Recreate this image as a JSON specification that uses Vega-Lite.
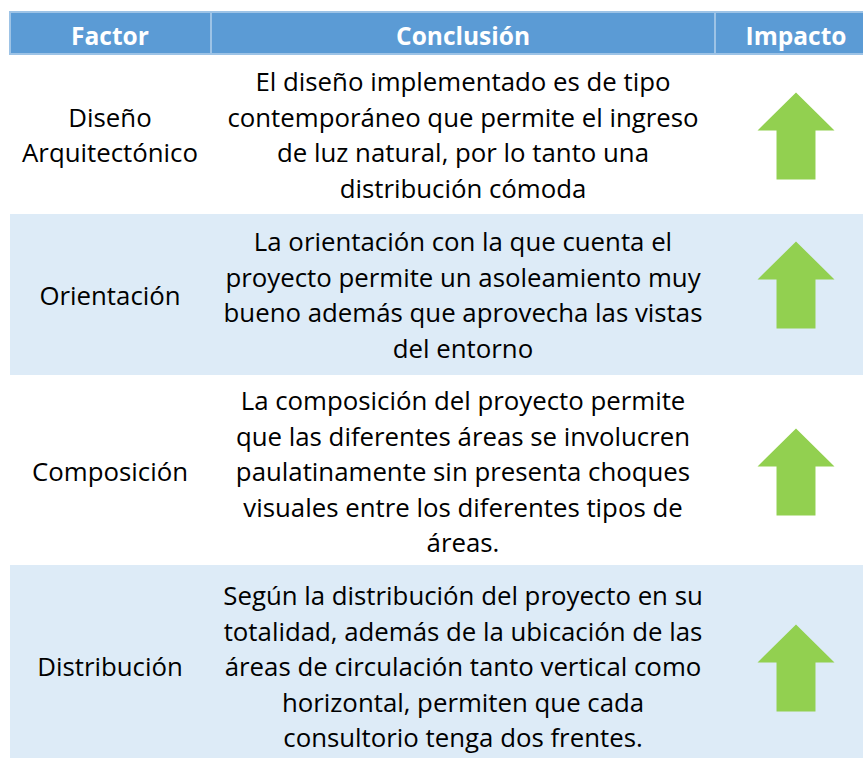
{
  "$schema": "https://vega.github.io/schema/vega-lite/v6.json",
  "width": 863,
  "height": 758,
  "padding": 0,
  "autosize": {"type": "none"},
  "background": "white",
  "config": {"view": {"stroke": null}},
  "datasets": {
    "encabezado": [
      {"columna": "Factor", "izq": 10, "der": 211, "centro": 110},
      {"columna": "Conclusión", "izq": 211, "der": 715, "centro": 463},
      {"columna": "Impacto", "izq": 715, "der": 877, "centro": 796}
    ],
    "filas": [
      {"fila": 1, "factor": ["Diseño", "Arquitectónico"], "conclusion": ["El diseño implementado es de tipo", "contemporáneo que permite el ingreso", "de luz natural, por lo tanto una", "distribución cómoda"], "impacto": "Positivo", "fondo": "blanco", "arriba": 54, "abajo": 214, "centro": 136, "y_factor": 126.6, "y_conclusion": 91},
      {"fila": 2, "factor": ["Orientación"], "conclusion": ["La orientación con la que cuenta el", "proyecto permite un asoleamiento muy", "bueno además que aprovecha las vistas", "del entorno"], "impacto": "Positivo", "fondo": "azul", "arriba": 214, "abajo": 375, "centro": 285, "y_factor": 305, "y_conclusion": 251},
      {"fila": 3, "factor": ["Composición"], "conclusion": ["La composición del proyecto permite", "que las diferentes áreas se involucren", "paulatinamente sin presenta choques", "visuales entre los diferentes tipos de", "áreas."], "impacto": "Positivo", "fondo": "blanco", "arriba": 375, "abajo": 565, "centro": 472, "y_factor": 481, "y_conclusion": 410},
      {"fila": 4, "factor": ["Distribución"], "conclusion": ["Según la distribución del proyecto en su", "totalidad, además de la ubicación de las", "áreas de circulación tanto vertical como", "horizontal, permiten que cada", "consultorio tenga dos frentes."], "impacto": "Positivo", "fondo": "azul", "arriba": 565, "abajo": 778, "centro": 668, "y_factor": 676, "y_conclusion": 605}
    ]
  },
  "layer": [
    {
      "data": {"name": "filas"},
      "mark": {"type": "rect", "clip": true, "strokeWidth": 0},
      "encoding": {
        "x": {"datum": 10, "type": "quantitative", "scale": {"domain": [0, 863], "nice": false, "zero": false}, "axis": null},
        "x2": {"datum": 877},
        "y": {"field": "arriba", "type": "quantitative", "scale": {"domain": [0, 758], "nice": false, "zero": false, "reverse": true}, "axis": null},
        "y2": {"field": "abajo"},
        "color": {"field": "fondo", "type": "nominal", "scale": {"domain": ["blanco", "azul"], "range": ["#FFFFFF", "#DDEBF7"]}, "legend": null}
      }
    },
    {
      "data": {"name": "encabezado"},
      "mark": {"type": "rect", "clip": true, "fill": "#5B9BD5", "stroke": "#9DC3E6", "strokeWidth": 2},
      "encoding": {
        "x": {"field": "izq", "type": "quantitative"},
        "x2": {"field": "der"},
        "y": {"datum": 12, "type": "quantitative"},
        "y2": {"datum": 54}
      }
    },
    {
      "data": {"name": "encabezado"},
      "mark": {"type": "text", "font": "Open Sans", "fontSize": 24.5, "fontWeight": "bold", "color": "#FFFFFF", "align": "center", "baseline": "alphabetic"},
      "encoding": {
        "x": {"field": "centro", "type": "quantitative"},
        "y": {"datum": 45, "type": "quantitative"},
        "text": {"field": "columna"}
      }
    },
    {
      "data": {"name": "filas"},
      "mark": {"type": "text", "font": "Open Sans", "fontSize": 25.8, "color": "#000000", "align": "center", "baseline": "alphabetic", "lineHeight": 35.6},
      "encoding": {
        "x": {"datum": 110, "type": "quantitative"},
        "y": {"field": "y_factor", "type": "quantitative"},
        "text": {"field": "factor"}
      }
    },
    {
      "data": {"name": "filas"},
      "mark": {"type": "text", "font": "Open Sans", "fontSize": 25.8, "color": "#000000", "align": "center", "baseline": "alphabetic", "lineHeight": 35.6},
      "encoding": {
        "x": {"datum": 463, "type": "quantitative"},
        "y": {"field": "y_conclusion", "type": "quantitative"},
        "text": {"field": "conclusion"}
      }
    },
    {
      "data": {"name": "filas"},
      "mark": {"type": "point", "shape": "M0,-1 L0.885,-0.126 L0.448,-0.126 L0.448,1 L-0.448,1 L-0.448,-0.126 L-0.885,-0.126 Z", "size": 7569, "filled": true, "fill": "#92D050", "opacity": 1, "strokeWidth": 0},
      "encoding": {
        "x": {"datum": 796, "type": "quantitative"},
        "y": {"field": "centro", "type": "quantitative"},
        "tooltip": {"field": "impacto"}
      }
    }
  ]
}
